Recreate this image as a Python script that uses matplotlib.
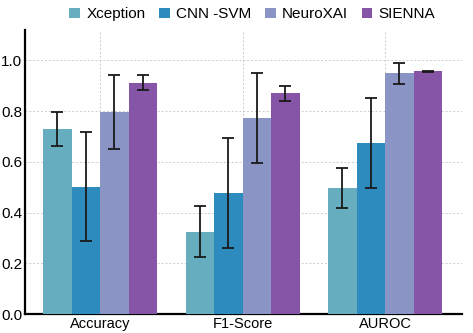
import matplotlib
matplotlib.use("Agg")
import matplotlib.pyplot as plt
import numpy as np

plt.rcParams['font.family'] = ['Liberation Sans', 'DejaVu Sans']

metrics = ["Accuracy", "F1-Score", "AUROC"]
models = ["Xception", "CNN -SVM", "NeuroXAI", "SIENNA"]
colors = ["#66AEBF", "#2E8BBD", "#8A94C5", "#8755A8"]

values = {
    "Xception": [0.73, 0.325, 0.498],
    "CNN -SVM": [0.502, 0.477, 0.673],
    "NeuroXAI": [0.797, 0.773, 0.949],
    "SIENNA":   [0.912, 0.871, 0.957],
}
errors = {
    "Xception": [0.067, 0.10, 0.078],
    "CNN -SVM": [0.215, 0.218, 0.177],
    "NeuroXAI": [0.146, 0.177, 0.040],
    "SIENNA":   [0.030, 0.030, 0.001],
}

fig = plt.figure(figsize=(4.73, 3.33), dpi=100)
ax = fig.add_axes([25/473, 1 - 314/333, (462-25)/473, (314-30)/333])

x = np.arange(len(metrics))
w = 0.2
for i, m in enumerate(models):
    ax.bar(x + (i - 1.5) * w, values[m], w, color=colors[i], label=m,
           yerr=errors[m], capsize=4.5, error_kw=dict(ecolor="#1a1a1a", elinewidth=1.3, capthick=1.3),
           zorder=3)

ax.set_xlim(-0.527, 2.54)
ax.set_ylim(0, 1.12)
ax.set_xticks(x)
ax.set_xticklabels(metrics, fontsize=10.5)
ax.set_yticks([0.0, 0.2, 0.4, 0.6, 0.8, 1.0])
ax.set_yticklabels(["0.0", "0.2", "0.4", "0.6", "0.8", "1.0"], fontsize=11)
ax.tick_params(axis='both', length=0, pad=2)
ax.grid(True, linestyle=(0, (2, 2)), color="#cccccc", linewidth=0.7, zorder=0)
for s in ["top", "right"]:
    ax.spines[s].set_visible(False)
ax.spines["left"].set_linewidth(1.6)
ax.spines["bottom"].set_linewidth(1.6)

ax.legend(loc="center", bbox_to_anchor=(0.52, 1.055), ncol=4, frameon=False,
          fontsize=11, handlelength=0.7, handleheight=0.7, handletextpad=0.4,
          columnspacing=0.9, borderaxespad=0)

fig.savefig("out.png", dpi=100)
